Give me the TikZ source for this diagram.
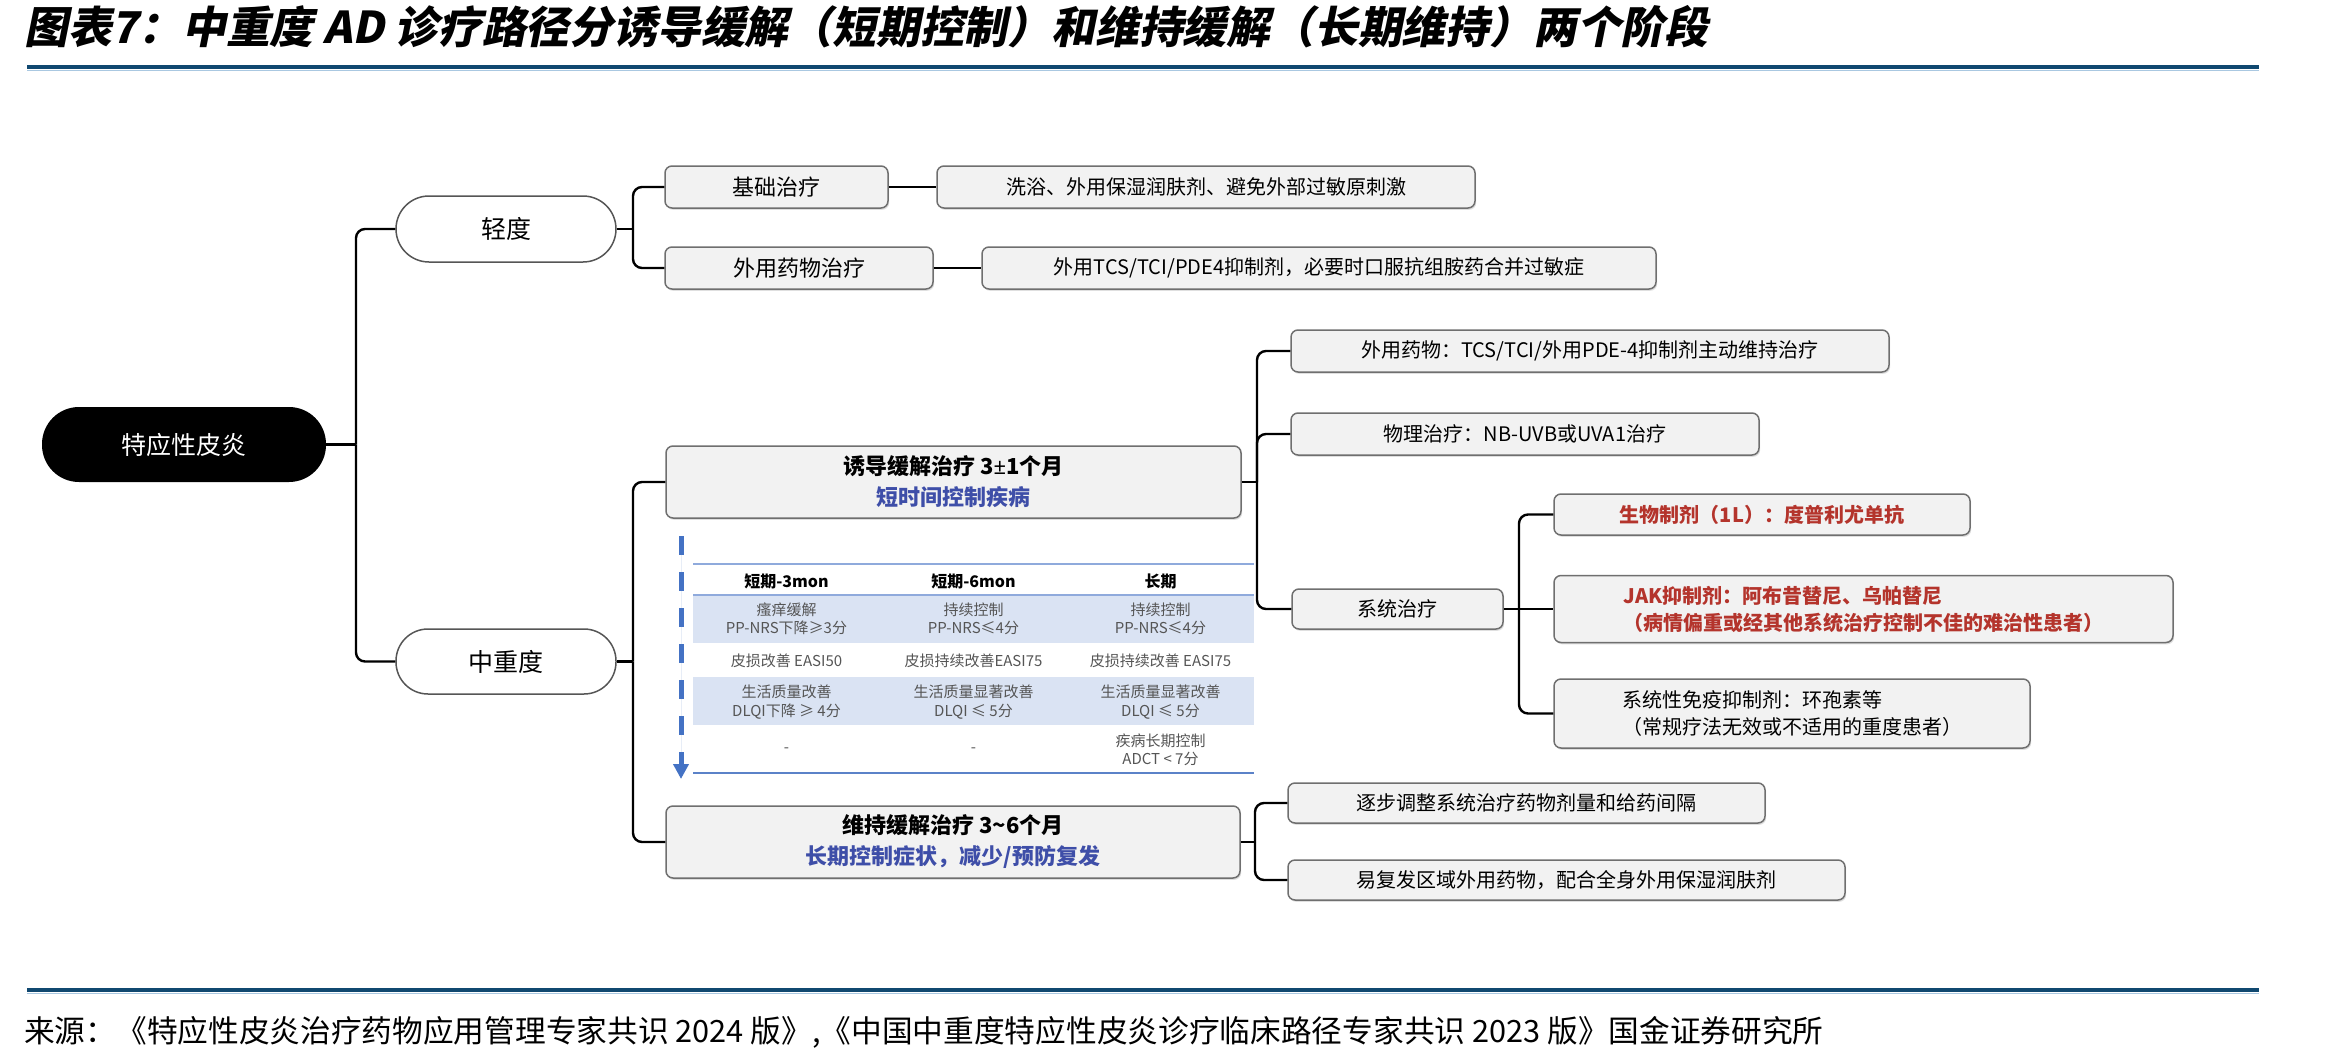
\documentclass[tikz,border=0pt]{standalone}
\usepackage{fontspec}
\setmainfont{Noto Sans CJK SC}
\newfontfamily\titlefont{Noto Sans CJK SC}[FakeSlant=0.2]
\newfontfamily\latinsym{Noto Sans}
\usetikzlibrary{arrows.meta,shadows}
\definecolor{boxfill}{HTML}{F2F2F2}
\definecolor{boxdraw}{HTML}{6F6F6F}
\definecolor{pilldraw}{HTML}{555555}
\definecolor{redtxt}{RGB}{180,52,44}
\definecolor{bluetxt}{RGB}{62,78,168}
\definecolor{rulecol}{RGB}{16,72,112}
\definecolor{rulelight}{RGB}{170,200,225}
\definecolor{tshade}{HTML}{DAE3F3}
\definecolor{tline}{HTML}{8FAADC}
\definecolor{tlinedark}{HTML}{5B82C8}
\definecolor{arrowblue}{HTML}{4472C4}
\definecolor{tgray}{RGB}{85,85,85}
\begin{document}
\begin{tikzpicture}[x=1pt,y=-1pt,
  conn/.style={line width=2.4pt,draw=black,rounded corners=9pt},
  box/.style={draw=boxdraw,line width=1.5pt,fill=boxfill,rounded corners=7pt,inner sep=0pt,
    drop shadow={shadow xshift=1.2pt,shadow yshift=-1.8pt,opacity=0.25}},
  pill/.style={draw=pilldraw,line width=1.5pt,fill=white,inner sep=0pt,
    minimum width=220pt,font=\fontsize{25}{30}\selectfont},
  fA/.style={font=\fontsize{20}{27}\selectfont},
  fB/.style={font=\fontsize{22}{28}\selectfont},
  fC/.style={font=\bfseries\fontsize{22}{31}\selectfont,align=center},
  fR/.style={font=\bfseries\fontsize{20}{27}\selectfont,text=redtxt},
  th/.style={font=\bfseries\fontsize{16}{19}\selectfont,inner sep=0pt},
  td/.style={font=\fontsize{15}{18.5}\selectfont,text=tgray,align=center,inner sep=0pt}]
\fill[white] (0,0) rectangle (2346,1063);
\useasboundingbox (0,0) rectangle (2346,1063);

% title and rules
\node[anchor=west,inner sep=0pt,font=\titlefont\bfseries\fontsize{43.8}{50}\selectfont] (title) at (24,27)
  {图表7：中重度 AD 诊疗路径分诱导缓解（短期控制）和维持缓解（长期维持）两个阶段};
\draw[line width=4pt,rulecol] (27,67) -- (2259,67);
\draw[line width=1pt,rulelight] (27,70.5) -- (2259,70.5);
\draw[line width=4pt,rulecol] (27,990) -- (2259,990);
\draw[line width=1pt,rulelight] (27,993.5) -- (2259,993.5);
\node[anchor=west,inner sep=0pt,font=\fontsize{30.7}{34}\selectfont] (src) at (24,1032)
  {来源：《特应性皮炎治疗药物应用管理专家共识 2024 版》,《中国中重度特应性皮炎诊疗临床路径专家共识 2023 版》国金证券研究所};

% main nodes
\node[fill=black,text=white,rounded corners=37pt,minimum width=284pt,minimum height=75pt,inner sep=0pt,
  font=\fontsize{25}{30}\selectfont] (root) at (184,444.5) {特应性皮炎};
\node[pill,minimum height=66pt,rounded corners=33pt] (mild) at (506,229) {轻度};
\node[pill,minimum height=65pt,rounded corners=32pt] (mod) at (506,661.5) {中重度};

% mild branch
\node[box,fB,minimum width=223pt,minimum height=42pt] (jc) at (776.5,187) {基础治疗};
\node[box,fB,minimum width=268pt,minimum height=42pt] (wy) at (799,268) {外用药物治疗};
\node[box,fA,minimum width=538pt,minimum height=42pt] (xy) at (1206,187) {洗浴、外用保湿润肤剂、避免外部过敏原刺激};
\node[box,fA,minimum width=674pt,minimum height=42pt] (tcs) at (1319,268) {外用TCS/TCI/PDE4抑制剂，必要时口服抗组胺药合并过敏症};

% moderate branch
\node[box,fC,minimum width=575pt,minimum height=72pt] (ind) at (953.5,482)
  {诱导缓解治疗 3{\latinsym ±}1个月\\\textcolor{bluetxt}{短时间控制疾病}};
\node[box,fC,minimum width=574pt,minimum height=72pt] (mnt) at (953,842)
  {维持缓解治疗 3\textasciitilde6个月\\\textcolor{bluetxt}{长期控制症状，减少/预防复发}};

\node[box,fA,minimum width=598pt,minimum height=42pt] (top1) at (1590,351) {外用药物：TCS/TCI/外用PDE-4抑制剂主动维持治疗};
\node[box,fA,minimum width=468pt,minimum height=42pt] (phy) at (1525,434) {物理治疗：NB-UVB或UVA1治疗};
\node[box,fA,minimum width=211pt,minimum height=40pt] (sys) at (1397.5,609) {系统治疗};

\node[box,fR,minimum width=416pt,minimum height=41pt] (bio) at (1762,514.5) {生物制剂（1L）：度普利尤单抗};
\node[box,fR,align=left,minimum width=619pt,minimum height=67pt] (jak) at (1863.5,609)
  {JAK抑制剂：阿布昔替尼、乌帕替尼\\（病情偏重或经其他系统治疗控制不佳的难治性患者）};
\node[box,fA,align=left,minimum width=476pt,minimum height=69pt] (imm) at (1792,713.5)
  {系统性免疫抑制剂：环孢素等\\（常规疗法无效或不适用的重度患者）};

\node[box,fA,minimum width=477pt,minimum height=40pt] (step) at (1526.5,803) {逐步调整系统治疗药物剂量和给药间隔};
\node[box,fA,minimum width=557pt,minimum height=40pt] (easy) at (1566.5,880) {易复发区域外用药物，配合全身外用保湿润肤剂};

% connectors
\coordinate (j0) at (356,444.5);
\coordinate (j1) at (633,229);
\coordinate (j2) at (633,661.5);
\coordinate (j3) at (1257,482);
\coordinate (j4) at (1519,609);
\coordinate (j5) at (1255,842);
\draw[conn] (root.east) -- (j0);
\draw[conn] (j0) |- (mild.west);
\draw[conn] (j0) |- (mod.west);
\draw[conn] (mild.east) -- (j1);
\draw[conn] (j1) |- (jc.west);
\draw[conn] (j1) |- (wy.west);
\draw[conn] (jc.east) -- (xy.west);
\draw[conn] (wy.east) -- (tcs.west);
\draw[conn] (mod.east) -- (j2);
\draw[conn] (j2) |- (ind.west);
\draw[conn] (j2) |- (mnt.west);
\draw[conn] (ind.east) -- (j3);
\draw[conn] (j3) |- (top1.west);
\draw[conn] (j3) |- (phy.west);
\draw[conn] (j3) |- (sys.west);
\draw[conn] (sys.east) -- (j4);
\draw[conn] (j4) |- (bio.west);
\draw[conn] (j4) -- (jak.west);
\draw[conn] (j4) |- (imm.west);
\draw[conn] (mnt.east) -- (j5);
\draw[conn] (j5) |- (step.west);
\draw[conn] (j5) |- (easy.west);

% table
\fill[tshade] (693,595) rectangle (1254,643);
\fill[tshade] (693,677) rectangle (1254,725);
\draw[tline,line width=1.5pt] (693,564) -- (1254,564);
\draw[tline,line width=2pt] (693,595) -- (1254,595);
\draw[tlinedark,line width=2pt] (693,773) -- (1254,773);

\node[th] (h1) at (786.5,581) {短期-3mon};
\node[th] (h2) at (973.5,581) {短期-6mon};
\node[th] (h3) at (1160.5,581) {长期};
\node[td] (c11) at (786.5,619) {瘙痒缓解\\PP-NRS下降≥3分};
\node[td] (c12) at (973.5,619) {持续控制\\PP-NRS≤4分};
\node[td] (c13) at (1160.5,619) {持续控制\\PP-NRS≤4分};
\node[td] (c21) at (786.5,661) {皮损改善 EASI50};
\node[td] (c22) at (973.5,661) {皮损持续改善EASI75};
\node[td] (c23) at (1160.5,661) {皮损持续改善 EASI75};
\node[td] (c31) at (786.5,702) {生活质量改善\\DLQI下降 ≥ 4分};
\node[td] (c32) at (973.5,702) {生活质量显著改善\\DLQI ≤ 5分};
\node[td] (c33) at (1160.5,702) {生活质量显著改善\\DLQI ≤ 5分};
\node[td] (c41) at (786.5,750) {-};
\node[td] (c42) at (973.5,750) {-};
\node[td] (c43) at (1160.5,750) {疾病长期控制\\ADCT < 7分};

% dashed arrow
\coordinate (a0) at (681,536);
\coordinate (a1) at (681,779);
\draw[line width=5pt,draw=arrowblue,fill=arrowblue,dash pattern=on 19pt off 17pt,
  -{Triangle[width=15pt,length=15pt]}] (a0) -- (a1);
\end{tikzpicture}
\end{document}
